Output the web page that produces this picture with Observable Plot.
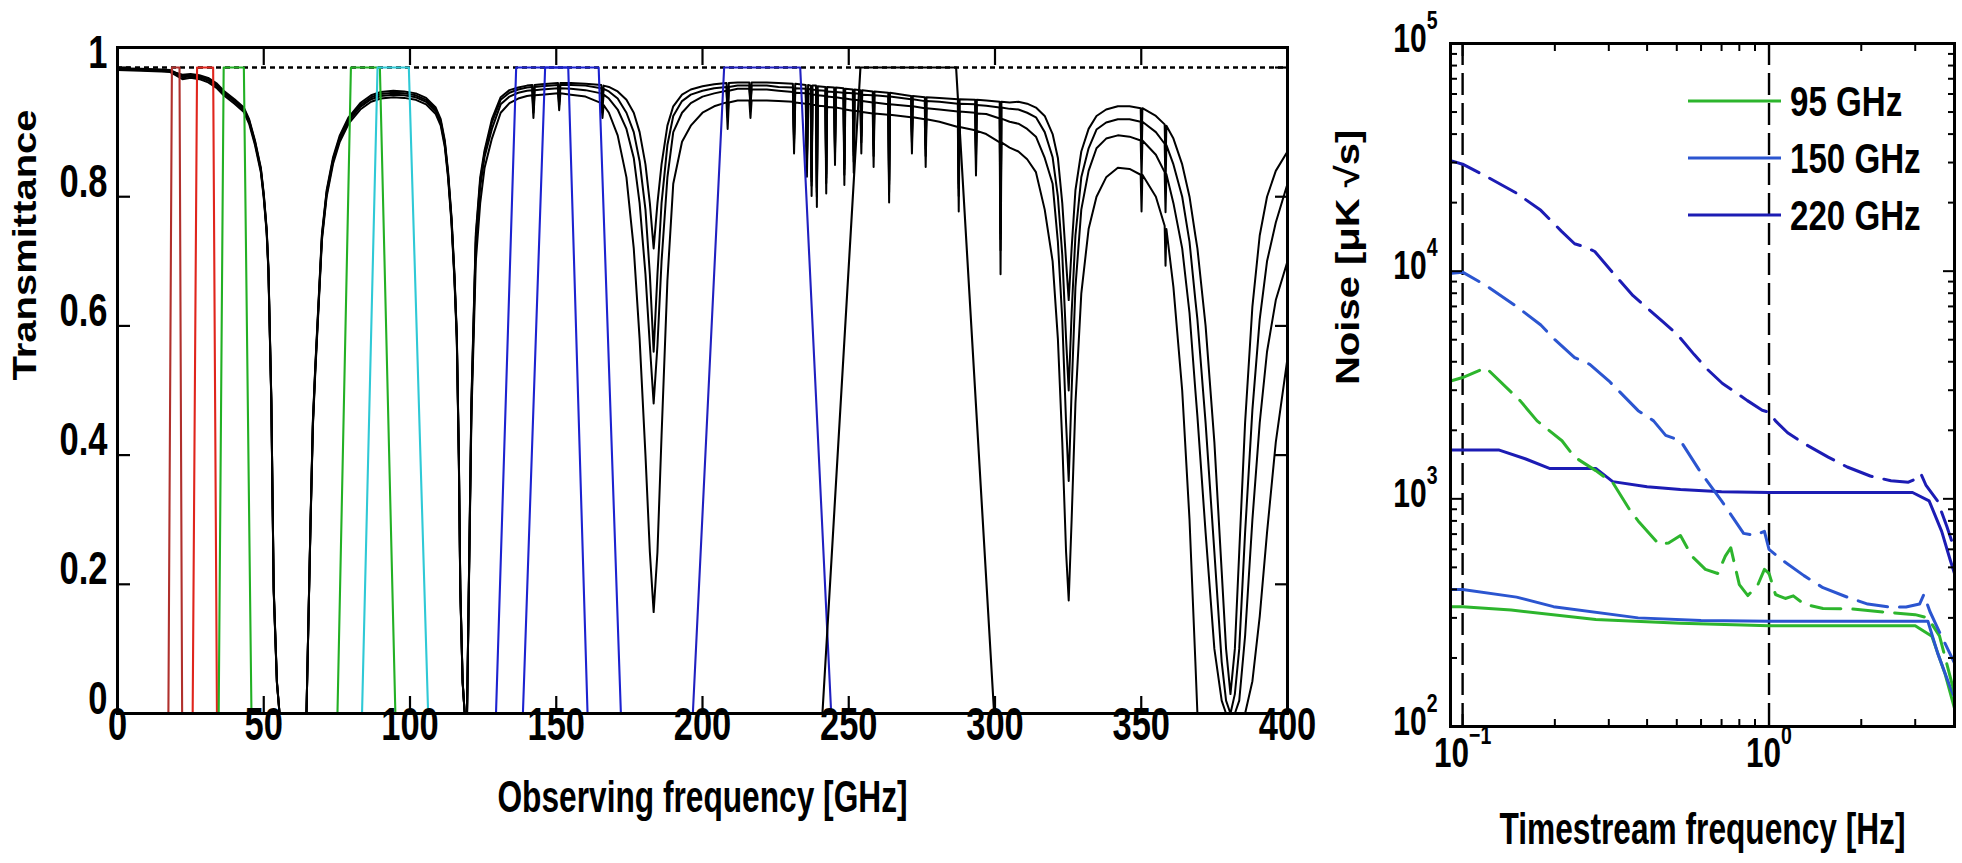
<!DOCTYPE html>
<html><head><meta charset="utf-8">
<script src="https://cdn.jsdelivr.net/npm/d3@7"></script>
<script src="https://cdn.jsdelivr.net/npm/@observablehq/plot@0.6"></script>
<style>
html,body{margin:0;padding:0;background:#fff;}
#wrap{position:relative;width:1962px;height:863px;overflow:hidden;background:#fff;}
#left{position:absolute;left:0;top:0;width:1340px;height:863px;}
#right{position:absolute;left:1300px;top:0;width:662px;height:863px;}
#legend{position:absolute;left:1680px;top:60px;width:280px;height:190px;}
svg{overflow:visible;}
</style></head>
<body><div id="wrap"><div id="left"></div><div id="right"></div><div id="legend"></div></div>
<script>
// ---------------- LEFT PANEL DATA: atmospheric transmittance (GHz) ----------------
const atmFreq = [
  0, 8, 15, 18, 20, 22.2, 25, 28, 31, 34,
  36.3, 40, 43.2, 45, 47, 49, 50, 51, 51.6, 52.6,
  53.4, 54.5, 55.4,
  64.6, 66, 66.8, 67.6, 69.9, 71.5, 73.7, 76, 79, 83,
  86.7, 90, 94.3, 98, 102, 105.5, 108.8, 110.5, 111.9, 113,
  114.2, 115.2, 116, 116.7, 117.2, 118, 118.7,
  119.5, 121, 122.5, 124, 125.5, 128, 131, 134, 137, 140,
  141.8, 142.2, 142.6, 145, 150.6, 151.0, 151.4, 155, 160, 165.4,
  165.8, 166.2, 168, 171, 174, 176.5, 178.5, 180.5, 182, 183.3,
  184.6, 186, 188, 190, 193, 196, 200, 204, 208.2, 208.6,
  209.0, 212, 216, 216.4, 216.8, 222, 226, 230.9, 231.3, 231.7,
  235.3, 235.7, 236.1, 237.0, 237.3, 237.6, 238.8, 239.1, 239.4, 242.0,
  242.3, 242.6, 245.0, 245.3, 245.6, 248.2, 248.5, 248.8, 251.4, 251.7,
  252.0, 254.0, 254.3, 254.6, 258.2, 258.5, 258.8, 263.5, 263.8, 264.1,
  271.3, 271.6, 271.9, 276.0, 276.3, 276.6, 281.0, 287.3, 287.6, 287.9,
  293.2, 293.5, 293.8, 297, 301.6, 301.9, 302.2, 305, 308, 311,
  314, 317, 319.7, 321.5, 323, 324.3, 325.2, 326.2, 327.5, 329.5,
  332, 334.7, 338, 342, 346, 349.8, 350.1, 350.4, 355, 358.0,
  358.3, 358.6, 361, 364, 366.5, 368.5, 369.2, 372, 375, 377.5,
  379, 380.5, 382, 383.5, 385.5, 388, 390.5, 393, 396, 400
];
const atmPwv1 = [
  .999, .998, .997, .996, .992, .989, .990, .988, .984, .975,
  .964, .951, .938, .920, .887, .845, .805, .750, .690, .485,
  .195, .050, 0,
  0, .300, .454, .536, .743, .810, .861, .895, .923, .945,
  .957, .962, .964, .963, .960, .953, .938, .920, .887, .840,
  .768, .680, .588, .400, .195, .050, 0,
  0, .485, .743, .830, .872, .920, .954, .965, .969, .972,
  .973, .938, .973, .974, .976, .950, .976, .976, .975, .973,
  .950, .972, .970, .963, .950, .930, .900, .850, .790, .720,
  .790, .850, .910, .940, .958, .966, .971, .974, .976, .935,
  .976, .977, .977, .950, .977, .977, .976, .975, .895, .975,
  .973, .860, .973, .972, .830, .972, .972, .814, .971, .970,
  .835, .970, .969, .880, .969, .968, .850, .967, .966, .870,
  .966, .965, .900, .965, .963, .880, .963, .961, .825, .961,
  .956, .900, .956, .954, .880, .954, .953, .951, .820, .951,
  .950, .880, .950, .949, .947, .743, .947, .946, .947, .944,
  .938, .925, .897, .860, .790, .700, .640, .720, .810, .870,
  .905, .925, .935, .940, .940, .937, .880, .937, .925, .912,
  .850, .910, .890, .850, .800, .740, .720, .600, .420, .220,
  .100, .030, .100, .250, .450, .630, .740, .800, .840, .870
];
const atmPwv2 = [
  .998, .997, .996, .995, .991, .987, .988, .986, .982, .973,
  .962, .949, .936, .918, .885, .843, .803, .748, .688, .483,
  .193, .049, 0,
  0, .298, .451, .533, .740, .807, .858, .892, .920, .942,
  .954, .959, .961, .960, .957, .950, .935, .917, .884, .837,
  .765, .677, .585, .397, .193, .049, 0,
  0, .480, .737, .824, .868, .915, .950, .961, .966, .969,
  .970, .935, .970, .971, .973, .947, .973, .973, .972, .968,
  .945, .967, .963, .952, .930, .900, .855, .780, .680, .560,
  .680, .790, .880, .925, .948, .958, .964, .968, .970, .929,
  .970, .972, .972, .945, .972, .972, .970, .969, .889, .968,
  .967, .854, .967, .966, .824, .966, .965, .807, .965, .964,
  .829, .963, .962, .873, .962, .961, .843, .961, .960, .864,
  .960, .959, .894, .958, .957, .874, .957, .955, .819, .955,
  .951, .895, .951, .948, .874, .948, .947, .944, .813, .944,
  .943, .873, .942, .941, .938, .734, .938, .936, .935, .930,
  .923, .900, .861, .800, .710, .580, .500, .620, .740, .830,
  .875, .904, .915, .920, .920, .916, .859, .916, .900, .882,
  .820, .880, .850, .800, .730, .640, .610, .450, .250, .080,
  .020, 0, .030, .100, .280, .470, .610, .700, .760, .820
];
const atmPwv3 = [
  .997, .996, .995, .994, .990, .985, .986, .984, .980, .971,
  .960, .947, .934, .916, .883, .841, .801, .746, .686, .481,
  .191, .048, 0,
  0, .296, .448, .530, .737, .804, .855, .889, .917, .939,
  .951, .956, .958, .957, .954, .947, .932, .914, .881, .834,
  .762, .674, .582, .394, .191, .048, 0,
  0, .472, .728, .815, .862, .905, .943, .955, .961, .964,
  .965, .930, .965, .966, .968, .942, .968, .967, .965, .960,
  .937, .958, .952, .935, .905, .860, .790, .680, .570, .480,
  .570, .700, .830, .900, .930, .945, .955, .960, .964, .923,
  .964, .967, .967, .940, .966, .966, .964, .962, .882, .961,
  .960, .847, .960, .959, .817, .958, .958, .800, .957, .956,
  .821, .955, .954, .865, .954, .952, .834, .952, .950, .854,
  .950, .949, .884, .948, .946, .863, .946, .943, .807, .943,
  .940, .884, .940, .937, .863, .937, .935, .932, .801, .932,
  .930, .860, .929, .928, .921, .717, .921, .916, .913, .905,
  .893, .860, .820, .730, .610, .450, .360, .500, .660, .780,
  .840, .875, .890, .895, .893, .887, .830, .887, .865, .838,
  .776, .835, .790, .720, .620, .500, .460, .280, .100, .020,
  0, 0, 0, .020, .120, .300, .450, .560, .640, .700
];
const atmPwv4 = [
  .996, .995, .994, .993, .988, .982, .984, .982, .977, .968,
  .957, .944, .931, .913, .880, .838, .798, .743, .683, .478,
  .188, .047, 0,
  0, .293, .444, .526, .733, .800, .851, .885, .913, .935,
  .947, .952, .954, .953, .950, .943, .928, .910, .877, .830,
  .758, .670, .578, .390, .188, .047, 0,
  0, .460, .700, .790, .845, .890, .930, .945, .952, .956,
  .957, .922, .957, .958, .960, .934, .960, .958, .955, .945,
  .922, .942, .930, .895, .830, .720, .580, .400, .250, .157,
  .250, .430, .670, .820, .885, .910, .930, .940, .946, .905,
  .946, .949, .949, .922, .949, .949, .948, .947, .867, .946,
  .944, .831, .944, .943, .801, .942, .942, .784, .941, .940,
  .805, .939, .938, .849, .938, .936, .818, .935, .933, .837,
  .933, .932, .867, .931, .929, .846, .929, .927, .791, .927,
  .923, .867, .923, .920, .846, .920, .916, .908, .777, .908,
  .903, .833, .902, .897, .884, .680, .884, .876, .870, .858,
  .838, .780, .700, .580, .420, .250, .175, .300, .480, .650,
  .750, .800, .830, .845, .843, .834, .777, .834, .800, .755,
  .693, .750, .660, .500, .300, .080, 0, 0, 0, 0,
  0, 0, 0, 0, 0, .050, .150, .280, .420, .550
];

// Receiver passbands (GHz): foot-left, shoulder-left, shoulder-right, foot-right
const bandNames  = ["20 GHz", "30 GHz", "40 GHz", "90 GHz", "100 GHz", "150 GHz A", "150 GHz B", "220 GHz", "270 GHz"];
const bandColors = ["#b0302c", "#e0251c", "#22b024", "#22b024", "#2fc9d6", "#1c22d0", "#1c22d0", "#2020c0", "#000000"];
const bandFootLo = [17.4, 25.7, 34.6, 75.2, 83.6, 129.4, 138.6, 196.7, 241.0];
const bandTopLo  = [18.6, 27.2, 36.3, 79.8, 88.9, 136.3, 146.2, 207.4, 254.0];
const bandTopHi  = [21.2, 32.7, 43.2, 89.7, 99.6, 154.1, 164.5, 233.4, 286.7];
const bandFootHi = [22.1, 34.0, 45.8, 95.0, 106.2, 160.7, 172.1, 244.0, 299.7];

const leftXTicks = [0, 50, 100, 150, 200, 250, 300, 350, 400];
const leftYTicks = [0, 0.2, 0.4, 0.6, 0.8, 1];

// ---------------- RIGHT PANEL DATA: noise spectra [Hz, uK sqrt(s)] ----------------
const bandLabels = ["95 GHz", "150 GHz", "220 GHz"];
const noiseColors = ["#2db52d", "#2b55d0", "#1c1cb4"];
const sum95 = [[0.092,3300],[0.1,3410],[0.119,3770],[0.154,2700],[0.175,2200],[0.211,1800],[0.232,1525],[0.272,1330],[0.31,1170],[0.35,900],[0.374,800],[0.438,630],[0.47,640],[0.514,690],[0.56,560],[0.62,490],[0.68,470],[0.72,560],[0.75,610],[0.8,420],[0.853,376],[0.92,420],[0.966,490],[1.0,470],[1.05,380],[1.13,365],[1.2,375],[1.3,345],[1.5,330],[1.83,329],[2.51,316],[3.0,310],[3.3,300],[3.6,250],[4.03,140]];
const sum150 = [[0.092,9800],[0.1,9900],[0.12,8600],[0.15,7000],[0.18,5800],[0.2,5000],[0.232,4170],[0.26,3900],[0.3,3300],[0.374,2440],[0.42,2200],[0.46,1900],[0.514,1800],[0.6,1300],[0.7,980],[0.826,705],[0.9,690],[0.966,720],[1.0,600],[1.1,540],[1.3,460],[1.5,407],[1.8,370],[2.1,345],[2.51,334],[2.8,335],[3.1,345],[3.2,380],[3.35,320],[3.6,260],[4.03,190]];
const sum220 = [[0.092,30500],[0.1,29500],[0.12,26000],[0.15,22000],[0.18,18500],[0.21,15000],[0.232,13200],[0.25,12800],[0.27,12200],[0.31,9800],[0.36,7800],[0.41,6700],[0.45,6000],[0.5,5300],[0.57,4300],[0.63,3700],[0.705,3210],[0.76,3000],[0.85,2700],[0.95,2450],[1.0,2400],[1.05,2200],[1.15,1950],[1.3,1750],[1.56,1525],[1.8,1380],[2.14,1260],[2.5,1200],[2.85,1183],[3.0,1220],[3.13,1290],[3.25,1150],[3.55,977],[3.8,760],[4.03,600]];
const diff95 = [[0.092,336],[0.1,336],[0.144,325],[0.272,295],[0.514,284],[1.0,277],[2.0,277],[3.0,277],[3.4,249],[3.75,171],[4.03,120]];
const diff150 = [[0.092,400],[0.1,400],[0.15,370],[0.198,336],[0.374,300],[0.6,292],[1.0,290],[2.0,290],[3.3,290],[3.55,210],[3.9,149],[4.03,135]];
const diff220 = [[0.092,1640],[0.131,1640],[0.16,1500],[0.192,1360],[0.272,1360],[0.309,1190],[0.4,1130],[0.514,1100],[0.7,1075],[1.0,1066],[2.0,1066],[2.94,1066],[3.33,980],[3.66,720],[3.9,540],[4.03,470]];
const knees = [0.1, 1];

const rightXMajor = [0.1, 1];
const rightXMinor = [0.2, 0.3, 0.4, 0.5, 0.6, 0.7, 0.8, 0.9, 2, 3];
const rightYMajor = [100, 1000, 10000, 100000];
const rightYMinor = [200,300,400,500,600,700,800,900,2000,3000,4000,5000,6000,7000,8000,9000,20000,30000,40000,50000,60000,70000,80000,90000];

// ---------------- helpers ----------------
const FONT = '"Liberation Sans", Arial, Helvetica, sans-serif';
function squeeze(svg) {
  svg.querySelectorAll("text").forEach(t => {
    const g = t.closest("g[aria-label]");
    const lab = g ? g.getAttribute("aria-label") : "";
    let tr = t.getAttribute("transform") || "";
    const x = t.getAttribute("x"), y = t.getAttribute("y");
    if (x !== null || y !== null) { tr += ` translate(${+x || 0},${+y || 0})`; t.removeAttribute("x"); t.removeAttribute("y"); }
    if (tr.includes("rotate")) tr += " scale(1,0.82)";
    else tr += lab.includes("tick label") ? " scale(0.75,1)" : " scale(0.72,1)";
    t.setAttribute("transform", tr);
  });
}
function superscripts(svg, dy) {
  svg.querySelectorAll("text").forEach(t => {
    const m = t.textContent.match(/^10\^(.+)$/);
    if (!m) return;
    t.textContent = "10";
    const sp = document.createElementNS("http://www.w3.org/2000/svg", "tspan");
    sp.setAttribute("font-size", "26");
    sp.setAttribute("dy", dy);
    sp.textContent = m[1].replace("-", "\u2212");
    t.appendChild(sp);
  });
}
const plainNum = d3.format("~f");

// ---------------- LEFT PLOT ----------------
const atmRows = [];
[atmPwv1, atmPwv2, atmPwv3, atmPwv4].forEach((arr, k) => {
  if (arr.length !== atmFreq.length) console.error("length mismatch", k, arr.length, atmFreq.length);
  atmFreq.forEach((f, i) => atmRows.push({f, t: arr[i], c: k}));
});
const bandRows = bandNames.flatMap((b, i) => [
  {band: b, f: bandFootLo[i], t: 0, color: bandColors[i]},
  {band: b, f: bandTopLo[i], t: 1, color: bandColors[i]},
  {band: b, f: bandTopHi[i], t: 1, color: bandColors[i]},
  {band: b, f: bandFootHi[i], t: 0, color: bandColors[i]}
]);

const left = Plot.plot({
  width: 1340, height: 863,
  marginLeft: 117, marginRight: 53, marginTop: 47, marginBottom: 150,
  x: {domain: [0, 400]},
  y: {domain: [0, 1.031]},
  color: {type: "identity"},
  style: {fontFamily: FONT, background: "transparent", color: "black", overflow: "visible"},
  marks: [
    Plot.ruleY([1], {stroke: "black", strokeWidth: 2.6, strokeDasharray: "5,4"}),
    Plot.line(atmRows, {x: "f", y: "t", z: "c", stroke: "black", strokeWidth: 2}),
    Plot.line(bandRows, {x: "f", y: "t", z: "band", stroke: "color", strokeWidth: 2.1}),
    Plot.frame({stroke: "black", strokeWidth: 3}),
    Plot.axisX(leftXTicks, {anchor: "bottom", tickSize: 17, dy: -17, fill: "none", strokeWidth: 2.2}),
    Plot.axisX(leftXTicks, {anchor: "top", tickSize: 17, dy: 17, fill: "none", strokeWidth: 2.2}),
    Plot.axisY(leftYTicks, {anchor: "left", tickSize: 13, dx: 13, fill: "none", strokeWidth: 2.2}),
    Plot.axisY(leftYTicks, {anchor: "right", tickSize: 13, dx: -13, fill: "none", strokeWidth: 2.2}),
    Plot.axisX(leftXTicks, {anchor: "bottom", tickSize: 0, tickPadding: 26, tickFormat: plainNum, fontSize: 46, fontWeight: "bold", label: null}),
    Plot.axisY(leftYTicks, {anchor: "left", tickSize: 0, tickPadding: 10, tickFormat: plainNum, fontSize: 46, fontWeight: "bold", label: null}),
    Plot.text(["Observing frequency [GHz]"], {frameAnchor: "bottom", dy: 98, fontSize: 44, fontWeight: "bold"}),
    Plot.text(["Transmittance"], {frameAnchor: "left", dx: -82, rotate: -90, fontSize: 40, fontWeight: "bold"})
  ]
});
document.getElementById("left").append(left);
squeeze(left);

// ---------------- RIGHT PLOT ----------------
const series = [
  {id: "sum95", data: sum95, color: noiseColors[0], dashed: true},
  {id: "sum150", data: sum150, color: noiseColors[1], dashed: true},
  {id: "sum220", data: sum220, color: noiseColors[2], dashed: true},
  {id: "diff95", data: diff95, color: noiseColors[0], dashed: false},
  {id: "diff150", data: diff150, color: noiseColors[1], dashed: false},
  {id: "diff220", data: diff220, color: noiseColors[2], dashed: false}
];
const rowsOf = (dashed) => series.filter(s => s.dashed === dashed)
  .flatMap(s => s.data.map(([f, n]) => ({id: s.id, f, n, color: s.color})));
const expFmt = d => `10^${Math.round(Math.log10(d))}`;

const right = Plot.plot({
  width: 662, height: 863,
  marginLeft: 150, marginRight: 8, marginTop: 43, marginBottom: 137,
  x: {type: "log", domain: [0.0913, 4.03]},
  y: {type: "log", domain: [100, 100000]},
  color: {type: "identity"},
  style: {fontFamily: FONT, background: "transparent", color: "black", overflow: "visible"},
  marks: [
    Plot.ruleX(knees, {stroke: "black", strokeWidth: 2.4, strokeDasharray: "22,8"}),
    Plot.line(rowsOf(false), {x: "f", y: "n", z: "id", stroke: "color", strokeWidth: 3}),
    Plot.line(rowsOf(true), {x: "f", y: "n", z: "id", stroke: "color", strokeWidth: 3, strokeDasharray: "30,12"}),
    Plot.frame({stroke: "black", strokeWidth: 3}),
    Plot.axisX(rightXMajor, {anchor: "bottom", tickSize: 12, dy: -12, fill: "none", strokeWidth: 2}),
    Plot.axisX(rightXMajor, {anchor: "top", tickSize: 12, dy: 12, fill: "none", strokeWidth: 2}),
    Plot.axisX(rightXMinor, {anchor: "bottom", tickSize: 7, dy: -7, fill: "none", strokeWidth: 2}),
    Plot.axisX(rightXMinor, {anchor: "top", tickSize: 7, dy: 7, fill: "none", strokeWidth: 2}),
    Plot.axisY(rightYMajor, {anchor: "left", tickSize: 12, dx: 12, fill: "none", strokeWidth: 2}),
    Plot.axisY(rightYMajor, {anchor: "right", tickSize: 12, dx: -12, fill: "none", strokeWidth: 2}),
    Plot.axisY(rightYMinor, {anchor: "left", tickSize: 7, dx: 7, fill: "none", strokeWidth: 2}),
    Plot.axisY(rightYMinor, {anchor: "right", tickSize: 7, dx: -7, fill: "none", strokeWidth: 2}),
    Plot.axisX(rightXMajor, {anchor: "bottom", tickSize: 0, tickPadding: 40, tickFormat: expFmt, fontSize: 42, fontWeight: "bold", label: null}),
    Plot.axisY(rightYMajor, {anchor: "left", tickSize: 0, tickPadding: 13, dy: 8, tickFormat: expFmt, fontSize: 40, fontWeight: "bold", label: null}),
    Plot.text(["Timestream frequency [Hz]"], {frameAnchor: "bottom", dy: 117, fontSize: 44, fontWeight: "bold"}),
    Plot.text(["Noise [\u03bcK \u221as]"], {frameAnchor: "left", dx: -92, rotate: -90, fontSize: 40, fontWeight: "bold"})
  ]
});
document.getElementById("right").append(right);
superscripts(right, "-23");
squeeze(right);

// ---------------- LEGEND ----------------
const lg = d3.select("#legend").append("svg").attr("width", 280).attr("height", 190)
  .style("font-family", FONT);
bandLabels.forEach((lab, i) => {
  const y = 41 + i * 57;
  lg.append("line").attr("x1", 8).attr("x2", 101).attr("y1", y).attr("y2", y)
    .attr("stroke", noiseColors[i]).attr("stroke-width", 3);
  lg.append("text").attr("transform", `translate(110,${y + 15}) scale(0.77,1)`)
    .attr("font-size", 43).attr("font-weight", "bold").attr("fill", "black").text(lab);
});
</script>
</body></html>
